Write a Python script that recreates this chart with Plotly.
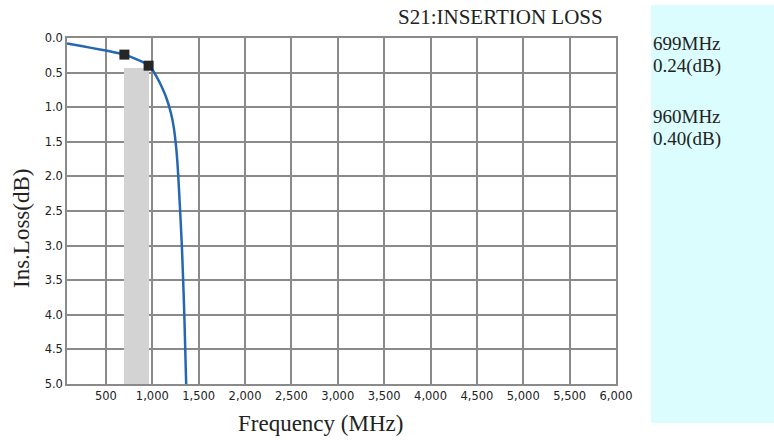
import plotly.graph_objects as go

# ---- data ----
freq_mhz = [80, 250, 450, 600, 699, 800, 900, 960, 1000, 1050, 1100, 1150, 1200,
            1230, 1260, 1280, 1300, 1320, 1345, 1365]
ins_loss_db = [0.08, 0.12, 0.17, 0.21, 0.24, 0.29, 0.35, 0.40, 0.46, 0.57, 0.70, 0.86, 1.08,
               1.28, 1.62, 2.0, 2.5, 3.05, 4.0, 5.0]
marker_freq = [699, 960]
marker_loss = [0.24, 0.40]
marker_labels = ["699MHz", "960MHz"]
marker_values = ["0.24(dB)", "0.40(dB)"]
band_start = 699
band_stop = 960
band_top = 0.44
x_ticks = [500, 1000, 1500, 2000, 2500, 3000, 3500, 4000, 4500, 5000, 5500, 6000]
y_ticks = [0.0, 0.5, 1.0, 1.5, 2.0, 2.5, 3.0, 3.5, 4.0, 4.5, 5.0]
x_range = [80, 6000]
y_range = [0, 5.0]

# ---- geometry (pixels) ----
W, H = 774, 440
L, R, T, B = 67, 616, 38, 384
pw, ph = R - L, B - T


def px(x):
    return (x - L) / pw


def py(y):
    return (B - y) / ph


serif = "Liberation Serif, Times New Roman, serif"
sans = "DejaVu Sans, Tahoma, sans-serif"
grid_col = "#8a8a8a"

fig = go.Figure()

# passband bar
fig.add_trace(go.Bar(
    x=[(band_start + band_stop) / 2], y=[y_range[1] - band_top], base=[band_top],
    width=[band_stop - band_start], marker=dict(color="#d3d3d3", line=dict(width=0)),
    hoverinfo="skip", showlegend=False))

# curve
fig.add_trace(go.Scatter(
    x=freq_mhz, y=ins_loss_db, mode="lines", line=dict(color="#2468b3", width=2.5, shape="spline"),
    showlegend=False))

# markers
fig.add_trace(go.Scatter(
    x=marker_freq, y=marker_loss, mode="markers",
    marker=dict(symbol="square", size=10, color="#262626"), showlegend=False))

tickfont = dict(family=sans, size=11.5, color="#222")
fig.update_layout(
    width=W, height=H,
    margin=dict(l=L, r=W - R, t=T, b=H - B),
    paper_bgcolor="white", plot_bgcolor="white",
    bargap=0,
    xaxis=dict(range=x_range, tickvals=x_ticks, tickformat=",d",
               showgrid=True, gridcolor=grid_col, gridwidth=1.5,
               showline=True, linecolor=grid_col, linewidth=1.5, mirror=True,
               zeroline=False, ticks="", tickfont=tickfont),
    yaxis=dict(range=[y_range[1], y_range[0]], tickvals=y_ticks, tickformat=".1f",
               showgrid=True, gridcolor=grid_col, gridwidth=1.5,
               showline=True, linecolor=grid_col, linewidth=1.5, mirror=True,
               zeroline=False, ticks="", tickfont=tickfont),
)

# side panel
fig.add_shape(type="rect", xref="paper", yref="paper",
              x0=px(651), x1=px(774), y0=py(423), y1=py(5),
              fillcolor="#dcfdfd", line=dict(width=0), layer="below")

annots = []
annots.append(dict(text="S21:INSERTION LOSS", x=px(605), y=py(17), xanchor="right", yanchor="middle",
                   font=dict(family=serif, size=21, color="#222")))
annots.append(dict(text="Frequency (MHz)", x=px(320), y=py(423), xanchor="center", yanchor="middle",
                   font=dict(family=serif, size=23, color="#222")))
annots.append(dict(text="Ins.Loss(dB)", x=px(21), y=py(229), xanchor="center", yanchor="middle",
                   textangle=-90, font=dict(family=serif, size=23, color="#222")))
label_y = [(43, 66), (116, 139)]
for (lab, val), (y1, y2) in zip(zip(marker_labels, marker_values), label_y):
    annots.append(dict(text=lab, x=px(651), y=py(y1), xanchor="left", yanchor="middle",
                       font=dict(family=serif, size=19, color="#222")))
    annots.append(dict(text=val, x=px(651), y=py(y2), xanchor="left", yanchor="middle",
                       font=dict(family=serif, size=19, color="#222")))
for a in annots:
    a.update(xref="paper", yref="paper", showarrow=False)
fig.update_layout(annotations=annots)

fig.write_html("out.html", config={"displayModeBar": False},
               post_script="document.body.style.margin='0px';")
